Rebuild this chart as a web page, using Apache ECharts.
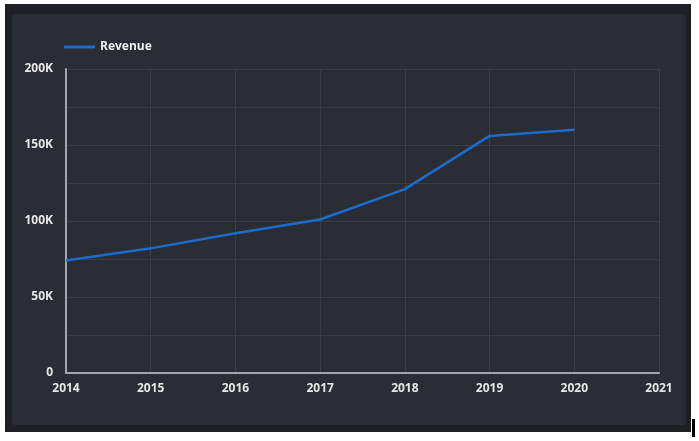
<!DOCTYPE html>
<html>
<head>
<meta charset="utf-8">
<script src="https://cdn.jsdelivr.net/npm/echarts@6/dist/echarts.min.js"></script>
<style>
  html, body { margin: 0; padding: 0; background: #ffffff; width: 699px; height: 441px; overflow: hidden; }
  /* outer dark frame + inner card */
  #frame { position: absolute; left: 5px; top: 4px; width: 686px; height: 428px; background: #1f2023; }
  #card { position: absolute; left: 12px; top: 14px; width: 674px; height: 411px; background: #2b2d35; border-radius: 4px; }
  #mark { position: absolute; left: 692px; top: 419px; width: 3px; height: 18px; background: #000; }
  #chart { position: absolute; left: 0; top: 0; width: 699px; height: 441px; }
</style>
</head>
<body>
<div id="frame"></div>
<div id="card"></div>
<div id="mark"></div>
<div id="chart"></div>
<script>
// 数据
var years = ['2014', '2015', '2016', '2017', '2018', '2019', '2020', '2021'];
var revenue = [74000, 82000, 92000, 101000, 121000, 156000, 160000, null];

var chart = echarts.init(document.getElementById('chart'), null, { renderer: 'canvas' });

var labelStyle = {
  color: '#e6e6e6',
  fontFamily: 'Open Sans',
  fontWeight: 'bold',
  fontSize: 12
};

chart.setOption({
  backgroundColor: 'transparent',
  animation: false,
  legend: {
    left: 59,
    top: 36,
    itemWidth: 31,
    itemHeight: 3,
    itemGap: 5,
    icon: 'rect',
    textStyle: { color: '#eeeeee', fontFamily: 'Open Sans', fontWeight: 'bold', fontSize: 12 },
    data: ['Revenue']
  },
  grid: { left: 66, top: 69, right: 40, bottom: 68, containLabel: false },
  xAxis: {
    type: 'category',
    data: years,
    boundaryGap: false,
    axisLine: { show: true, lineStyle: { color: '#a3a6ad', width: 2 } },
    axisTick: { show: false },
    axisLabel: Object.assign({ margin: 10 }, labelStyle),
    splitLine: { show: true, lineStyle: { color: '#3a3d46', width: 1 } }
  },
  yAxis: {
    type: 'value',
    min: 0,
    max: 200000,
    interval: 25000,
    axisLine: { show: true, lineStyle: { color: '#a3a6ad', width: 2 } },
    axisTick: { show: false },
    axisLabel: Object.assign({
      margin: 13,
      formatter: function (v) {
        if (v % 50000 !== 0) return '';
        return v === 0 ? '0' : (v / 1000) + 'K';
      }
    }, labelStyle),
    splitLine: { show: true, lineStyle: { color: '#3a3d46', width: 1 } }
  },
  series: [{
    name: 'Revenue',
    type: 'line',
    data: revenue,
    showSymbol: false,
    symbol: 'none',
    lineStyle: { color: '#1c6cd0', width: 2.5 },
    itemStyle: { color: '#1c6cd0' }
  }]
});
</script>
</body>
</html>
